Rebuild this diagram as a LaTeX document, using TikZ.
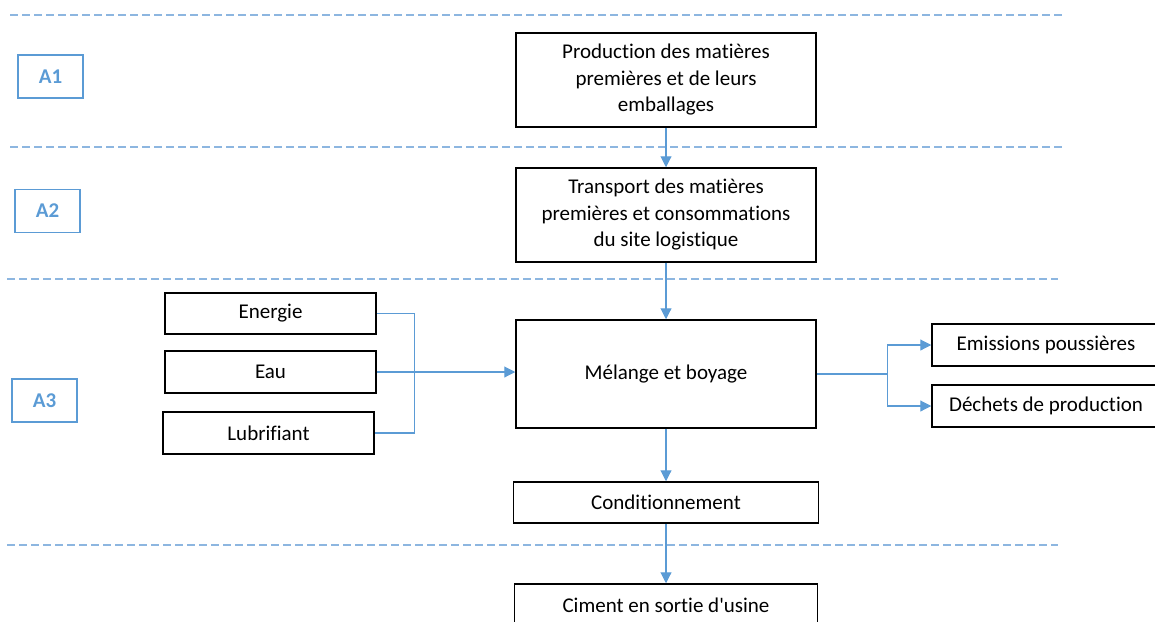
\documentclass[tikz,border=0pt]{standalone}
\usepackage{fontspec}
\newfontfamily\calib{Carlito}[RawFeature=-liga]
\usepackage{xcolor}
\usepackage{tikz}
\usetikzlibrary{arrows.meta}

\definecolor{lienbleu}{HTML}{5B9BD5}
\definecolor{sepbleu}{HTML}{8DB6E0}

\begin{document}
\begin{tikzpicture}[x=1pt,y=-1pt,
    etape/.style={draw,line width=1.5pt,inner sep=0pt,align=center,
        font=\calib\fontsize{21}{26.5}\selectfont},
    phase/.style={draw=lienbleu,line width=1.6pt,inner sep=0pt,text=lienbleu,
        minimum width=65pt,minimum height=43pt,font=\calib\fontsize{21}{25}\selectfont\bfseries},
    lien/.style={draw=lienbleu,line width=1.1pt},
    fleche/.style={lien,-{Triangle[length=11pt,width=11pt]}},
    separ/.style={draw=sepbleu,line width=1.1pt,dash pattern=on 8pt off 4pt}]
    \useasboundingbox (0,0) rectangle (1155,621);

    % Separations between phases
    \draw[separ] (10,15) -- (1062,15);
    \draw[separ] (10,147) -- (1062,147);
    \draw[separ] (7,279) -- (1058,279);
    \draw[separ] (7,545) -- (1058,545);

    % Phase labels
    \node[phase] (a1) at (50.5,76.5) {A1};
    \node[phase] (a2) at (47.5,211) {A2};
    \node[phase] (a3) at (44.5,400.5) {A3};

    % Main chain
    \node[etape,minimum width=300pt,minimum height=94pt] (prod) at (666,80)
        {Production des matières\\premières et de leurs\\emballages};
    \node[etape,minimum width=300pt,minimum height=94pt] (transp) at (666,215)
        {Transport des matières\\premières et consommations\\du site logistique};
    \node[etape,minimum width=300pt,minimum height=108pt] (melange) at (666,374)
        {Mélange et boyage};
    \node[etape,minimum width=305pt,minimum height=41pt] (condi) at (666,502.5)
        {Conditionnement};
    \node[etape,minimum width=303pt,minimum height=42pt] (ciment) at (666,605)
        {Ciment en sortie d'usine};

    % Inputs
    \node[etape,minimum width=211pt,minimum height=41pt] (energie) at (270.5,313.5) {Energie};
    \node[etape,minimum width=211pt,minimum height=42pt] (eau) at (270.5,372) {Eau};
    \node[etape,minimum width=211pt,minimum height=42pt] (lubri) at (268.5,433) {Lubrifiant};

    % Outputs
    \node[etape,minimum width=228pt,minimum height=42pt] (emis) at (1046,345) {Emissions poussières};
    \node[etape,minimum width=228pt,minimum height=42pt] (dechets) at (1046,406) {Déchets de production};

    % Flows
    \draw[fleche] (prod) -- (transp);
    \draw[fleche] (transp) -- (melange);
    \draw[fleche] (melange) -- (condi);
    \draw[fleche] (condi) -- (ciment);
    \draw[lien] (energie.east) -- ++(38,0) |- (lubri.east);
    \draw[fleche] (eau.east) -- (eau.east -| melange.west);
    \draw[lien] (melange.east) -- ++(71,0) coordinate (split);
    \draw[fleche] (split) |- (emis.west);
    \draw[fleche] (split) |- (dechets.west);
\end{tikzpicture}
\end{document}
